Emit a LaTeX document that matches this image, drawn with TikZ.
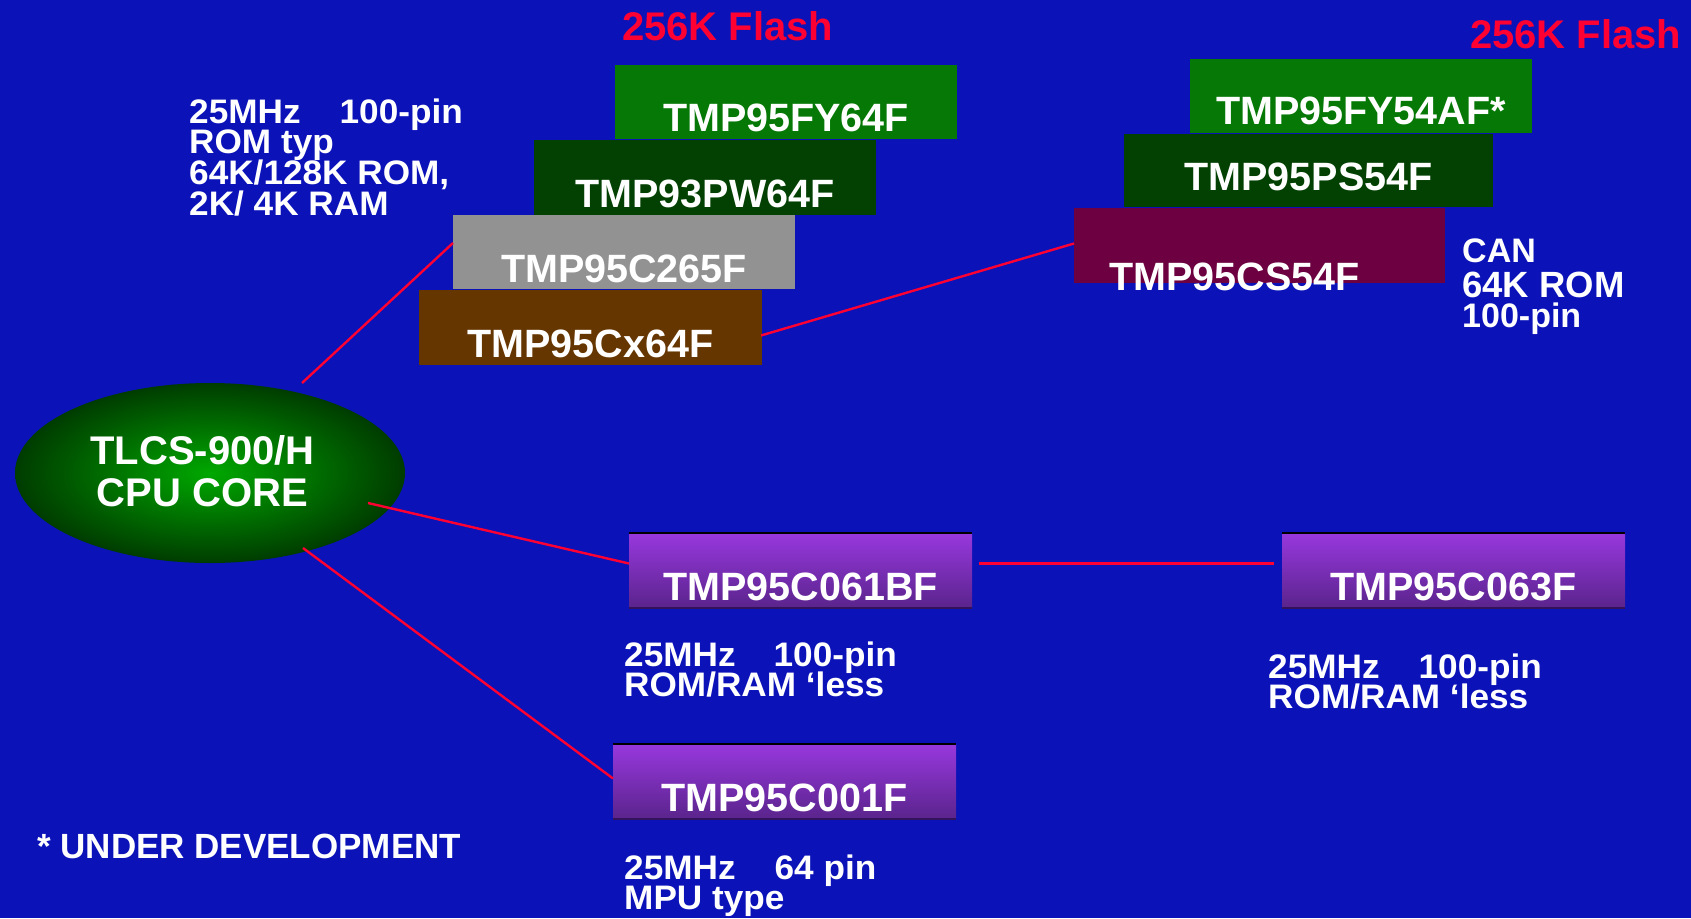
\documentclass[tikz,border=0pt]{standalone}
\usepackage{fontspec}
\setmainfont{Liberation Sans}
\newfontfamily\infofont{Liberation Sans}[FakeStretch=1.035]
\usetikzlibrary{calc,shapes.geometric}
\definecolor{bgblue}{RGB}{10,18,184}
\definecolor{chipgreen}{RGB}{6,120,6}
\definecolor{chipdkgreen}{RGB}{3,65,3}
\definecolor{chipgrey}{RGB}{146,146,146}
\definecolor{chipbrown}{RGB}{102,54,0}
\definecolor{chipmaroon}{RGB}{108,0,64}
\definecolor{purtop}{RGB}{152,56,222}
\definecolor{purbot}{RGB}{90,36,140}
\definecolor{purdark}{RGB}{50,18,90}
\definecolor{redc}{RGB}{255,0,51}
\definecolor{coreinner}{RGB}{0,168,0}
\definecolor{coreouter}{RGB}{0,60,0}
\lineskiplimit=-100pt
\newcommand{\topstrut}{\vrule height 26pt depth 0pt width 0pt\relax}
\begin{document}
\begin{tikzpicture}[x=1pt,y=-1pt,
  chip/.style={anchor=north west, inner sep=0pt, outer sep=0pt, text=white,
    font=\fontsize{39.5}{40}\selectfont\bfseries},
  purplechip/.style={chip, top color=purtop, bottom color=purbot, minimum width=343pt,
    text height=67pt, text depth=8pt},
  info/.style={anchor=north west, inner sep=0pt, text=white, align=left,
    font=\infofont\fontsize{34}{30.7}\selectfont\bfseries},
  flash/.style={anchor=base west, inner sep=0pt, text=redc,
    font=\fontsize{40}{40}\selectfont\bfseries},
  conn/.style={draw=redc, line width=2.4pt}]
\useasboundingbox (0,0) rectangle (1691,918);
\fill[bgblue] (0,0) rectangle (1691,918);

% headings
\node[flash] (flashA) at (622,40) {256K Flash};
\node[flash] (flashB) at (1470,48) {256K Flash};

% left stack
\node[chip, fill=chipgreen, minimum width=342pt, text height=66pt, text depth=8pt] (fy64) at (615,65) {TMP95FY64F};
\node[chip, fill=chipdkgreen, minimum width=342pt, text height=67pt, text depth=8pt] (pw64) at (534,140) {TMP93PW64F};
\node[chip, fill=chipgrey, minimum width=342pt, text height=67pt, text depth=7pt] (c265) at (453,215) {TMP95C265F};
\node[chip, fill=chipbrown, minimum width=343pt, text height=67pt, text depth=8pt] (cx64) at (419,290) {TMP95Cx64F};

% right stack
\node[chip, fill=chipgreen, minimum width=342pt, text height=65pt, text depth=9pt] (fy54) at (1190,59) {TMP95FY54AF*};
\node[chip, fill=chipdkgreen, minimum width=369pt, text height=56pt, text depth=17pt] (ps54) at (1124,134) {TMP95PS54F};
\node[anchor=north west, inner sep=0pt, outer sep=0pt, fill=chipmaroon, minimum width=371pt, minimum height=75pt] (cs54) at (1074,208) {};
\node[anchor=base west, inner sep=0pt, text=white, font=\fontsize{39.5}{40}\selectfont\bfseries] (cs54lbl) at (1109,290) {TMP95CS54F};

% purple chips
\node[purplechip] (c061) at (629,533) {TMP95C061BF};
\node[purplechip] (c063) at (1282,533) {TMP95C063F};
\node[purplechip] (c001) at (613,744) {TMP95C001F};
\foreach \n in {c061,c063,c001}{
  \draw[black, line width=1.2pt] (\n.north west) -- (\n.north east);
  \draw[purdark, line width=1.5pt] (\n.south west) -- (\n.south east);
}

% core
\node[ellipse, minimum width=390pt, minimum height=180pt, inner sep=0pt,
  inner color=coreinner, outer color=coreouter, text=white, align=center,
  font=\fontsize{40}{43}\selectfont\bfseries] (core) at (210,473)
  {TLCS-900/H\hspace*{15pt}\\CPU CORE\hspace*{15pt}\vrule height 0pt depth 4pt width 0pt};

% info texts
\node[info] (infoL) at (189,97) {\topstrut 25MHz\hspace{39pt}100-pin\\ROM typ\\64K/128K ROM,\\2K/ 4K RAM};
\node[info, font=\fontsize{34}{30}\selectfont\bfseries] (infoCAN) at (1462,236)
  {\topstrut CAN\\[5pt]{\fontsize{36.5}{30}\selectfont 64K ROM}\\100-pin};
\node[info] (info061) at (624,640) {\topstrut 25MHz\hspace{38pt}100-pin\\ROM/RAM ‘less};
\node[info] (info063) at (1268,652) {\topstrut 25MHz\hspace{39pt}100-pin\\ROM/RAM ‘less};
\node[info] (info001) at (624,853) {\topstrut 25MHz\hspace{39pt}64 pin\\MPU type};
\node[anchor=base west, inner sep=0pt, text=white, font=\fontsize{35}{36}\selectfont\bfseries] (dev) at (37,858) {* UNDER DEVELOPMENT};

% connectors
\coordinate (e1) at (302,383);
\coordinate (e2) at (368,503);
\coordinate (e3) at (303,548);
\draw[conn] (e1) -- ($(c265.west)+(0,-9)$);
\draw[conn] ($(cx64.east)+(-1,8)$) -- ($(cs54.west)+(0,-2)$);
\draw[conn] (e2) -- ($(c061.west)+(0,-7)$);
\draw[conn] ($(c061.east)+(7,-7)$) -- ($(c063.west)+(-8,-7)$);
\draw[conn] (e3) -- ($(c001.west)+(0,-3)$);
\end{tikzpicture}
\end{document}
